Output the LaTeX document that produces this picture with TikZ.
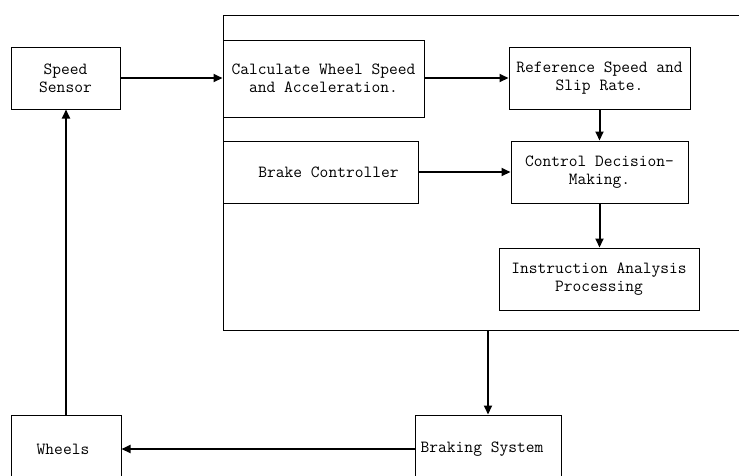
\documentclass[tikz,border=0pt]{standalone}
\usetikzlibrary{arrows.meta}
\begin{document}
\begin{tikzpicture}[x=1pt,y=-1pt,
  box/.style={draw=black,line width=1pt,inner sep=0pt,align=center,
    font=\fontsize{17}{18}\selectfont\ttfamily},
  arr/.style={line width=2pt,-{Triangle[length=9pt,width=8pt]}}]
\useasboundingbox (0,0) rectangle (739,475);
\node[box,minimum width=537pt,minimum height=315pt] (big) at (491.5,172.5) {};
\node[box,minimum width=109pt,minimum height=62pt] (ss) at (65.5,78) {Speed\\Sensor};
\node[box,minimum width=201pt,minimum height=77pt] (calc) at (323.5,78.5) {Calculate Wheel Speed\\and Acceleration.};
\node[box,minimum width=181pt,minimum height=62pt] (ref) at (599.5,78) {Reference Speed and\\Slip Rate.};
\node[box,minimum width=195pt,minimum height=62pt] (bc) at (320.5,172) {\hspace*{16pt}Brake Controller};
\node[box,minimum width=177pt,minimum height=62pt] (cd) at (599.5,172) {Control Decision-\\Making.};
\node[box,minimum width=200pt,minimum height=62pt] (ia) at (599,279) {Instruction Analysis\\Processing};
\node[box,minimum width=146pt,minimum height=68pt] (bs) at (488,449) {Braking System\hspace*{12pt}};
\node[box,minimum width=110pt,minimum height=68pt] (wh) at (66,449) {Wheels\hspace*{6pt}};
\draw[arr] (ss.east) -- (ss.east -| calc.west);
\draw[arr] (calc.east |- ref.west) -- (ref.west);
\draw[arr] (ref.south) -- (cd.north);
\draw[arr] (bc.east) -- (cd.west);
\draw[arr] (cd.south) -- (cd.south |- ia.north);
\draw[arr] (big.south -| bs.north) -- (bs.north);
\draw[arr] (bs.west) -- (wh.east);
\draw[arr] (wh.north) -- (wh.north |- ss.south);
\end{tikzpicture}
\end{document}
